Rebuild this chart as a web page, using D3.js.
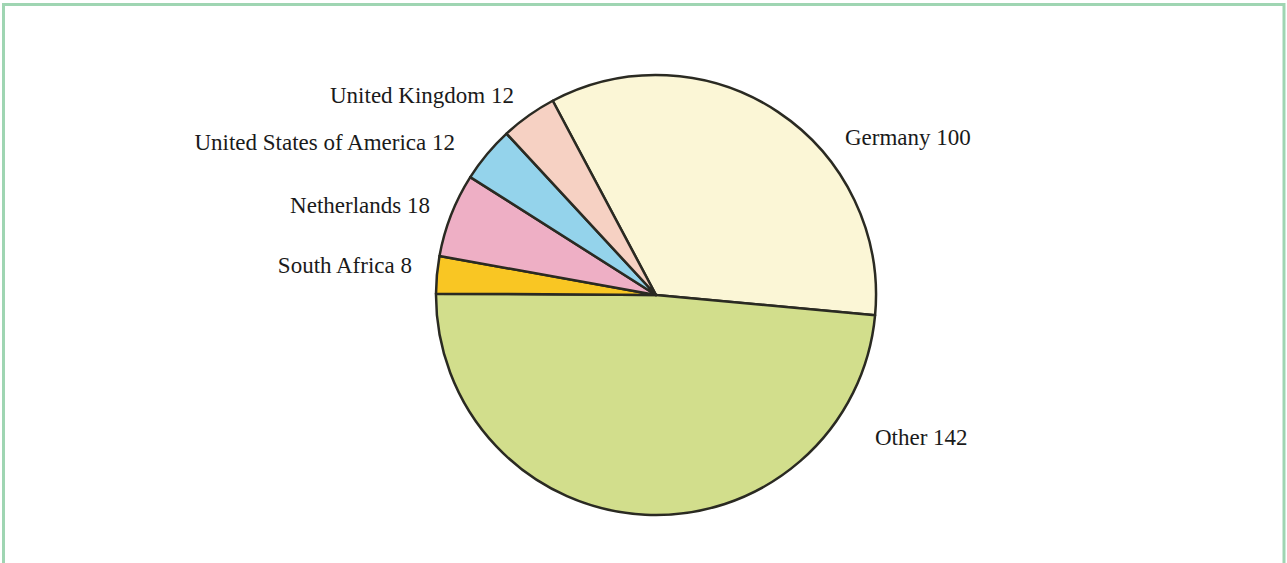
<!DOCTYPE html>
<html>
<head>
<meta charset="utf-8">
<script src="https://cdn.jsdelivr.net/npm/d3@7"></script>
<style>
  html, body { margin: 0; padding: 0; background: #fff; }
  svg { display: block; }
</style>
</head>
<body>
<svg id="chart" width="1287" height="563"></svg>
<script>
// Data
const categories = ["Germany", "Other", "South Africa", "Netherlands", "United States of America", "United Kingdom"];
const values = [100, 142, 8, 18, 12, 12];
const colors = ["#fbf6d6", "#d2de8c", "#f9c623", "#eeafc5", "#94d3eb", "#f6d1c3"];

// Layout (label placement relative to pie centre, in px)
const labelLayout = {
  "Germany": [189, -150, "start"],
  "Other": [219, 150, "start"],
  "South Africa": [-244, -22, "end"],
  "Netherlands": [-226, -82, "end"],
  "United States of America": [-201, -145, "end"],
  "United Kingdom": [-142, -192, "end"]
};

const W = 1287, H = 563;
const svg = d3.select("#chart");

// frame
svg.append("rect")
  .attr("x", 3.5).attr("y", 4.5)
  .attr("width", W - 6.5).attr("height", H + 20)
  .attr("fill", "none")
  .attr("stroke", "#9fd5b2")
  .attr("stroke-width", 3);

const cx = 656, cy = 295, R = 220;
const startDeg = -28;

const data = categories.map((c, i) => ({ name: c, value: values[i], color: colors[i] }));

const pie = d3.pie()
  .value(d => d.value)
  .sort(null)
  .startAngle(startDeg * Math.PI / 180)
  .endAngle(startDeg * Math.PI / 180 + 2 * Math.PI);

const arc = d3.arc().innerRadius(0).outerRadius(R);

const g = svg.append("g").attr("transform", `translate(${cx},${cy})`);

g.selectAll("path.slice")
  .data(pie(data))
  .join("path")
  .attr("class", "slice")
  .attr("d", arc)
  .attr("fill", d => d.data.color)
  .attr("stroke", "#2a2a22")
  .attr("stroke-width", 2.5)
  .attr("stroke-linejoin", "round");

g.selectAll("text.lbl")
  .data(pie(data))
  .join("text")
  .attr("class", "lbl")
  .attr("x", d => labelLayout[d.data.name][0])
  .attr("y", d => labelLayout[d.data.name][1])
  .attr("text-anchor", d => labelLayout[d.data.name][2])
  .attr("font-family", "'Liberation Serif', 'DejaVu Serif', serif")
  .attr("font-size", 23)
  .attr("fill", "#1a1a1a")
  .text(d => `${d.data.name} ${d.data.value}`);
</script>
</body>
</html>
